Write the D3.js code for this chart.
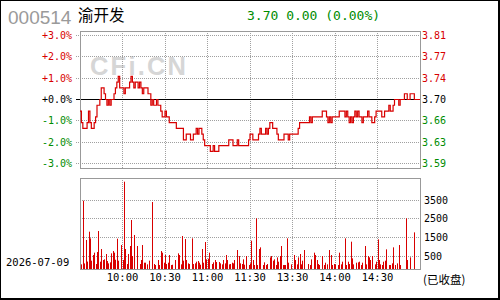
<!DOCTYPE html>
<html><head><meta charset="utf-8">
<script src="https://cdn.jsdelivr.net/npm/d3@7/dist/d3.min.js"></script>
<style>html,body{margin:0;padding:0;background:#fff;}svg{display:block;}</style>
</head><body>
<script>
const stockCode = "000514";
const stockName = "渝开发";
const quoteText = "3.70 0.00 (0.00%)";
const dateLabel = "2026-07-09";
const statusLabel = "(已收盘)";
const prevClose = 3.70;
const pctTicks = [3, 2, 1, 0, -1, -2, -3];
const pctLabels = ["+3.0%", "+2.0%", "+1.0%", "+0.0%", "-1.0%", "-2.0%", "-3.0%"];
const priceLabels = ["3.81", "3.77", "3.74", "3.70", "3.66", "3.63", "3.59"];
const timeTicks = [30, 60, 90, 120, 150, 180, 210];
const timeLabels = ["10:00", "10:30", "11:00", "11:30", "13:30", "14:00", "14:30"];
const volTicks = [3500, 2500, 1500, 500];
const volLabels = ["3500", "2500", "1500", "500"];

// minute prices, index 0..240
const prices = [
3.68,3.66,3.65,3.65,3.65,3.66,3.68,3.66,3.65,3.65,
3.66,3.67,3.69,3.69,3.70,3.72,3.72,3.71,3.70,3.69,
3.70,3.69,3.70,3.70,3.71,3.72,3.73,3.74,3.72,3.72,
3.72,3.71,3.72,3.72,3.72,3.73,3.74,3.73,3.72,3.73,
3.73,3.72,3.73,3.72,3.71,3.72,3.72,3.72,3.71,3.71,
3.69,3.70,3.69,3.69,3.70,3.69,3.69,3.68,3.67,3.67,
3.68,3.67,3.67,3.66,3.66,3.66,3.66,3.66,3.65,3.65,
3.65,3.65,3.65,3.63,3.63,3.64,3.64,3.64,3.63,3.63,
3.64,3.64,3.65,3.64,3.65,3.65,3.64,3.63,3.62,3.62,
3.62,3.62,3.61,3.61,3.62,3.61,3.61,3.61,3.62,3.62,
3.62,3.62,3.62,3.62,3.62,3.63,3.63,3.63,3.62,3.62,
3.62,3.63,3.62,3.62,3.62,3.62,3.62,3.62,3.62,3.63,
3.64,3.64,3.63,3.63,3.63,3.63,3.64,3.65,3.64,3.64,
3.64,3.65,3.64,3.65,3.66,3.66,3.65,3.65,3.65,3.64,
3.63,3.63,3.63,3.63,3.64,3.64,3.64,3.63,3.64,3.64,
3.64,3.64,3.64,3.64,3.65,3.66,3.66,3.66,3.66,3.66,
3.66,3.66,3.67,3.66,3.67,3.67,3.67,3.67,3.67,3.67,
3.67,3.68,3.68,3.68,3.67,3.66,3.67,3.66,3.67,3.67,
3.67,3.67,3.67,3.68,3.68,3.68,3.68,3.67,3.68,3.67,
3.66,3.67,3.66,3.67,3.68,3.67,3.68,3.67,3.67,3.66,
3.67,3.67,3.67,3.68,3.67,3.67,3.66,3.66,3.67,3.68,
3.68,3.68,3.68,3.67,3.67,3.68,3.68,3.68,3.69,3.68,
3.68,3.69,3.70,3.70,3.70,3.69,3.70,3.70,3.70,3.71,
3.71,3.70,3.70,3.71,3.71,3.71,3.70,3.70,3.70,3.70,
3.70];

// minute volumes, index 0..240
const volumes = [
0,51,3480,100,1362,200,1810,1451,249,554,
680,69,715,1846,195,877,285,321,608,231,
105,159,644,769,680,300,1433,249,0,1092,
285,4503,877,69,608,1039,2439,500,1631,0,
1039,0,69,285,1092,141,141,51,0,249,
0,3408,69,15,0,285,15,769,680,141,
554,69,141,554,15,30,0,285,0,644,
554,51,1577,249,1415,285,105,69,0,1451,
69,105,195,231,141,33,877,141,1254,321,
356,680,0,69,159,285,177,0,177,105,
51,285,105,554,285,51,69,141,105,285,
0,823,500,105,69,321,33,500,0,15,
105,1326,285,15,2528,15,877,967,0,15,
159,15,69,0,428,500,249,321,15,428,
195,500,1039,15,15,15,1451,141,0,51,
0,554,285,51,428,608,51,249,823,0,
0,69,15,321,0,680,554,285,69,15,
0,500,15,141,51,0,823,554,15,69,
51,0,15,680,51,195,0,1451,15,195,
69,1272,374,51,0,141,159,195,15,141,
0,1039,51,500,428,285,500,0,51,195,
1397,285,51,15,195,249,859,0,15,15,
105,967,15,0,105,1092,15,0,0,0,
2528,285,0,428,0,0,1774,0,0,0,
0];

const W = 500, H = 300;
const RED = "#d80000", GREEN = "#008c00", GRID = "#a0a0a0", BOX = "#999";
const MONO = "'DejaVu Sans Mono', monospace";

const svg = d3.select("body").append("svg").attr("width", W).attr("height", H);
svg.append("rect").attr("width", W).attr("height", H).attr("fill", "#fff");

const x = d3.scaleLinear().domain([0, 240]).range([80, 420]);
const yP = d3.scaleLinear().domain([-3, 3]).range([163.5, 35.5]);
const yV = d3.scaleLinear().domain([0, 3500]).range([265.3, 200.3]);
const top1 = 31, bot1 = 168, top2 = 178, bot2 = 269;
const snap = v => Math.round(v - 0.5) + 0.5;

// header
svg.append("text").attr("x", 8).attr("y", 24).attr("font-family", "'Liberation Sans', Arial, sans-serif")
  .attr("font-size", 19).attr("fill", "#9a9a9a").text(stockCode);
svg.append("text").attr("x", 78).attr("y", 21).attr("font-family", "'Noto Sans CJK SC', sans-serif")
  .attr("font-size", 15.5).attr("fill", "#000").text(stockName);
svg.append("text").attr("x", 247).attr("y", 20).attr("font-family", MONO)
  .attr("font-size", 13).attr("fill", GREEN).text(quoteText);

// watermark
svg.append("text").attr("x", 90).attr("y", 74.5).attr("font-family", "'Liberation Sans', Arial, sans-serif")
  .attr("font-weight", "bold").attr("font-size", 25.5).attr("fill", "#d6d6d6")
  .attr("textLength", 96).attr("lengthAdjust", "spacing").text("CFi.CN");

// upper grid
const g1 = svg.append("g");
g1.selectAll("line.h").data(pctTicks.filter(d => d !== 0)).join("line")
  .attr("x1", 76).attr("x2", 420).attr("y1", d => snap(yP(d))).attr("y2", d => snap(yP(d)))
  .attr("stroke", GRID).attr("stroke-dasharray", "1,1");
g1.selectAll("line.v").data(timeTicks).join("line")
  .attr("x1", d => snap(x(d))).attr("x2", d => snap(x(d))).attr("y1", top1).attr("y2", bot1)
  .attr("stroke", GRID).attr("stroke-dasharray", "1,1");
g1.append("line").attr("x1", 76).attr("x2", 420).attr("y1", snap(yP(0))).attr("y2", snap(yP(0)))
  .attr("stroke", "#000").attr("stroke-width", 1);
g1.append("rect").attr("x", 80.5).attr("y", top1 + 0.5).attr("width", 340).attr("height", bot1 - top1)
  .attr("fill", "none").attr("stroke", BOX);

// price line
const line = d3.line().x((d, i) => x(i)).y(d => yP((d - prevClose) / prevClose * 100)).curve(d3.curveStepAfter);
svg.append("path").datum(prices).attr("d", line).attr("fill", "none").attr("stroke", RED).attr("stroke-width", 1.2);

// left/right labels
const colorOf = d => d > 0 ? RED : (d < 0 ? GREEN : "#000");
svg.selectAll("text.pl").data(pctTicks).join("text")
  .attr("x", 72).attr("y", d => yP(d) + 3.6).attr("text-anchor", "end")
  .attr("font-family", MONO).attr("font-size", 10).attr("fill", colorOf)
  .text((d, i) => pctLabels[i]);
svg.selectAll("text.pr").data(pctTicks).join("text")
  .attr("x", 422).attr("y", d => yP(d) + 3.6)
  .attr("font-family", MONO).attr("font-size", 10).attr("fill", colorOf)
  .text((d, i) => priceLabels[i]);

// volume panel
const g2 = svg.append("g");
g2.selectAll("line.h").data(volTicks).join("line")
  .attr("x1", 80).attr("x2", 420).attr("y1", d => snap(yV(d))).attr("y2", d => snap(yV(d)))
  .attr("stroke", GRID).attr("stroke-dasharray", "1,1");
g2.selectAll("line.v").data(timeTicks).join("line")
  .attr("x1", d => snap(x(d))).attr("x2", d => snap(x(d))).attr("y1", top2).attr("y2", bot2)
  .attr("stroke", GRID).attr("stroke-dasharray", "1,1");
g2.selectAll("rect.bar").data(volumes.map((v, i) => ({v, i})).filter(d => d.v > 0)).join("rect")
  .attr("x", d => Math.round(x(d.i))).attr("width", 1)
  .attr("y", d => yV(d.v)).attr("height", d => bot2 + 0.5 - yV(d.v))
  .attr("fill", RED);
g2.append("rect").attr("x", 80.5).attr("y", top2 + 0.5).attr("width", 340).attr("height", bot2 - top2)
  .attr("fill", "none").attr("stroke", BOX);

svg.selectAll("text.vl").data(volTicks).join("text")
  .attr("x", 424).attr("y", d => yV(d) + 3.6)
  .attr("font-family", MONO).attr("font-size", 10).attr("fill", "#000")
  .text((d, i) => volLabels[i]);
svg.selectAll("text.tl").data(timeTicks).join("text")
  .attr("x", d => x(d)).attr("y", 281).attr("text-anchor", "middle")
  .attr("font-family", MONO).attr("font-size", 10.5).attr("fill", "#000")
  .text((d, i) => timeLabels[i]);
svg.append("text").attr("x", 6).attr("y", 266).attr("font-family", MONO).attr("font-size", 10.5)
  .attr("fill", "#000").text(dateLabel);
svg.append("text").attr("x", 423).attr("y", 284).attr("font-family", "'Noto Sans CJK SC', sans-serif")
  .attr("font-size", 11.5).attr("fill", "#000").text(statusLabel);

// outer frame
svg.append("rect").attr("x", 0).attr("y", 0).attr("width", W - 1).attr("height", H - 1)
  .attr("fill", "none").attr("stroke", "#000").attr("stroke-width", 2);
</script>
</body></html>
